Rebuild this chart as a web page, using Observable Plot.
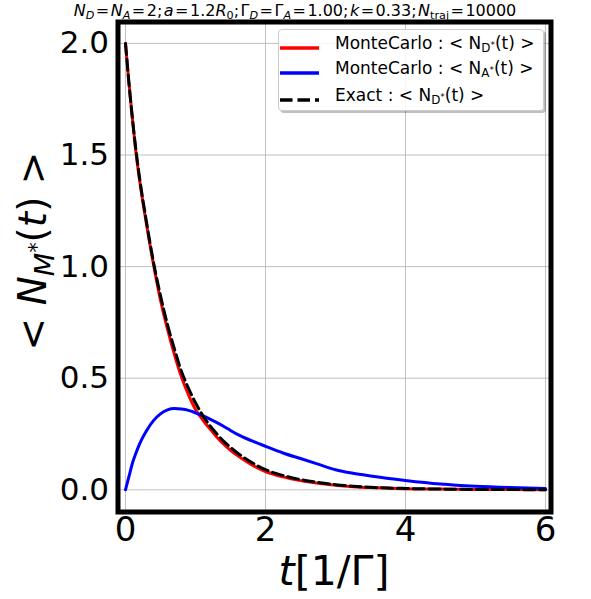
<!DOCTYPE html>
<html><head><meta charset="utf-8">
<script src="https://cdn.jsdelivr.net/npm/d3@7"></script>
<script src="https://cdn.jsdelivr.net/npm/@observablehq/plot@0.6"></script>
<style>
body{margin:0;background:#fff;font-family:"DejaVu Sans",sans-serif;}
#wrap{position:relative;width:591px;height:599px;overflow:hidden;}
#wrap svg{position:absolute;left:0;top:0;}
.ov{position:absolute;white-space:nowrap;line-height:1;color:#000;}
sub{font-size:70%;vertical-align:-0.28em;line-height:0;}
sup{font-size:75%;vertical-align:0.45em;line-height:0;}
#title{left:295px;top:11px;transform:translate(-50%,-50%);font-size:16px;word-spacing:-3.6px;}
#xlab{left:334px;top:571px;transform:translate(-50%,-50%);font-size:41px;}
#ylab{left:32px;top:251px;transform:translate(-50%,-50%) rotate(-90deg);font-size:39px;}
#legend{position:absolute;left:278px;top:29px;width:266px;height:82px;background:rgba(255,255,255,0.85);border:1px solid #cccccc;border-radius:4px;box-shadow:2px 2px 0 rgba(0,0,0,0.25);box-sizing:border-box;}
.row{position:absolute;left:0;height:0;}
.row svg{position:absolute;left:4px;top:-4px;}
.row span{position:absolute;left:56px;top:0;transform:translateY(-55%);font-size:17px;white-space:nowrap;line-height:1;}
</style></head><body><div id="wrap"></div>
<script>
// time grid (t in units of 1/Γ)
const tGrid = [0,0.05,0.1,0.15,0.2,0.3,0.4,0.5,0.6,0.7,0.8,0.9,1.0,1.1,1.2,1.3,1.4,1.5,1.6,1.8,2.0,2.25,2.5,2.75,3.0,3.25,3.5,4.0,4.5,5.0,5.5,6.0];
// MonteCarlo <N_D*(t)>
const mcDonor = [2.0,1.82,1.66,1.51,1.39,1.19,1.01,0.85,0.72,0.605,0.505,0.425,0.36,0.315,0.275,0.238,0.205,0.177,0.153,0.113,0.082,0.058,0.041,0.029,0.02,0.014,0.01,0.005,0.003,0.0015,0.0008,0.0004];
// MonteCarlo <N_A*(t)>
const mcAcceptor = [0,0.06,0.12,0.165,0.205,0.265,0.31,0.34,0.358,0.364,0.362,0.356,0.345,0.332,0.318,0.302,0.285,0.266,0.248,0.22,0.195,0.165,0.14,0.115,0.09,0.074,0.062,0.042,0.026,0.016,0.01,0.006];
// Exact <N_D*(t)>
const exactDonor = [2.0,1.82,1.66,1.52,1.40,1.20,1.02,0.87,0.74,0.63,0.53,0.455,0.39,0.335,0.29,0.252,0.218,0.19,0.165,0.123,0.09,0.064,0.046,0.033,0.023,0.016,0.011,0.006,0.003,0.0016,0.0009,0.0005];
const xTicks = [0,2,4,6];
const yTicks = [0,0.5,1.0,1.5,2.0];

const rows = tGrid.map((t,i)=>({t, mcD: mcDonor[i], mcA: mcAcceptor[i], ex: exactDonor[i]}));

const chart = Plot.plot({
  width: 591, height: 599,
  marginLeft: 117.5, marginRight: 40.5, marginTop: 21.5, marginBottom: 87.5,
  style: {fontFamily: "DejaVu Sans", background: "transparent", overflow: "visible", color: "#000"},
  x: {domain: [-0.107, 6.079]},
  y: {domain: [-0.0995, 2.096]},
  marks: [
    Plot.gridX(xTicks, {stroke: "#b0b0b0", strokeOpacity: 1, strokeWidth: 0.8}),
    Plot.gridY(yTicks, {stroke: "#b0b0b0", strokeOpacity: 1, strokeWidth: 0.8}),
    Plot.line(rows, {x: "t", y: "mcD", stroke: "#ff0000", strokeWidth: 3, curve: "monotone-x"}),
    Plot.line(rows, {x: "t", y: "mcA", stroke: "#0000ff", strokeWidth: 3, curve: "monotone-x"}),
    Plot.line(rows, {x: "t", y: "ex", stroke: "#000000", strokeWidth: 3, strokeDasharray: "11,4.8", curve: "monotone-x"}),
    Plot.frame({stroke: "#000", strokeWidth: 5}),
    Plot.axisX(xTicks, {tickSize: 0, tickPadding: 5, fontSize: 34, label: null, tickFormat: d => String(d)}),
    Plot.axisY(yTicks, {tickSize: 0, tickPadding: 9, fontSize: 31, label: null, tickFormat: d => d.toFixed(1)})
  ]
});
const wrap = document.getElementById("wrap");
wrap.appendChild(chart);

function addDiv(id, html){const d=document.createElement("div");d.className="ov";d.id=id;d.innerHTML=html;wrap.appendChild(d);return d;}
addDiv("title", "<i>N</i><sub><i>D</i></sub> = <i>N</i><sub><i>A</i></sub> = 2; <i>a</i> = 1.2<i>R</i><sub>0</sub>; Γ<sub><i>D</i></sub> = Γ<sub><i>A</i></sub> = 1.00; <i>k</i> = 0.33; <i>N</i><sub>traj</sub> = 10000");
addDiv("xlab", "<i>t</i>[1/Γ]");
addDiv("ylab", "&lt; <i>N</i><sub><i>M</i><sup>*</sup></sub>(<i>t</i>) &gt;");

const legendItems = [
  {label: "MonteCarlo : &lt; N<sub>D<sup>*</sup></sub>(t) &gt;", color: "#ff0000", dash: null, y: 14},
  {label: "MonteCarlo : &lt; N<sub>A<sup>*</sup></sub>(t) &gt;", color: "#0000ff", dash: null, y: 38.5},
  {label: "Exact : &lt; N<sub>D<sup>*</sup></sub>(t) &gt;", color: "#000000", dash: "12.5,5", y: 65.5}
];
const lg = document.createElement("div"); lg.id = "legend"; wrap.appendChild(lg);
for (const it of legendItems) {
  const r = document.createElement("div"); r.className = "row"; r.style.top = it.y + "px";
  r.innerHTML = `<svg width="42" height="8"><line x1="1" y1="4" x2="40" y2="4" stroke="${it.color}" stroke-width="3.3" ${it.dash ? `stroke-dasharray="${it.dash}"` : ""}/></svg><span>${it.label}</span>`;
  lg.appendChild(r);
}
</script>
</body></html>
